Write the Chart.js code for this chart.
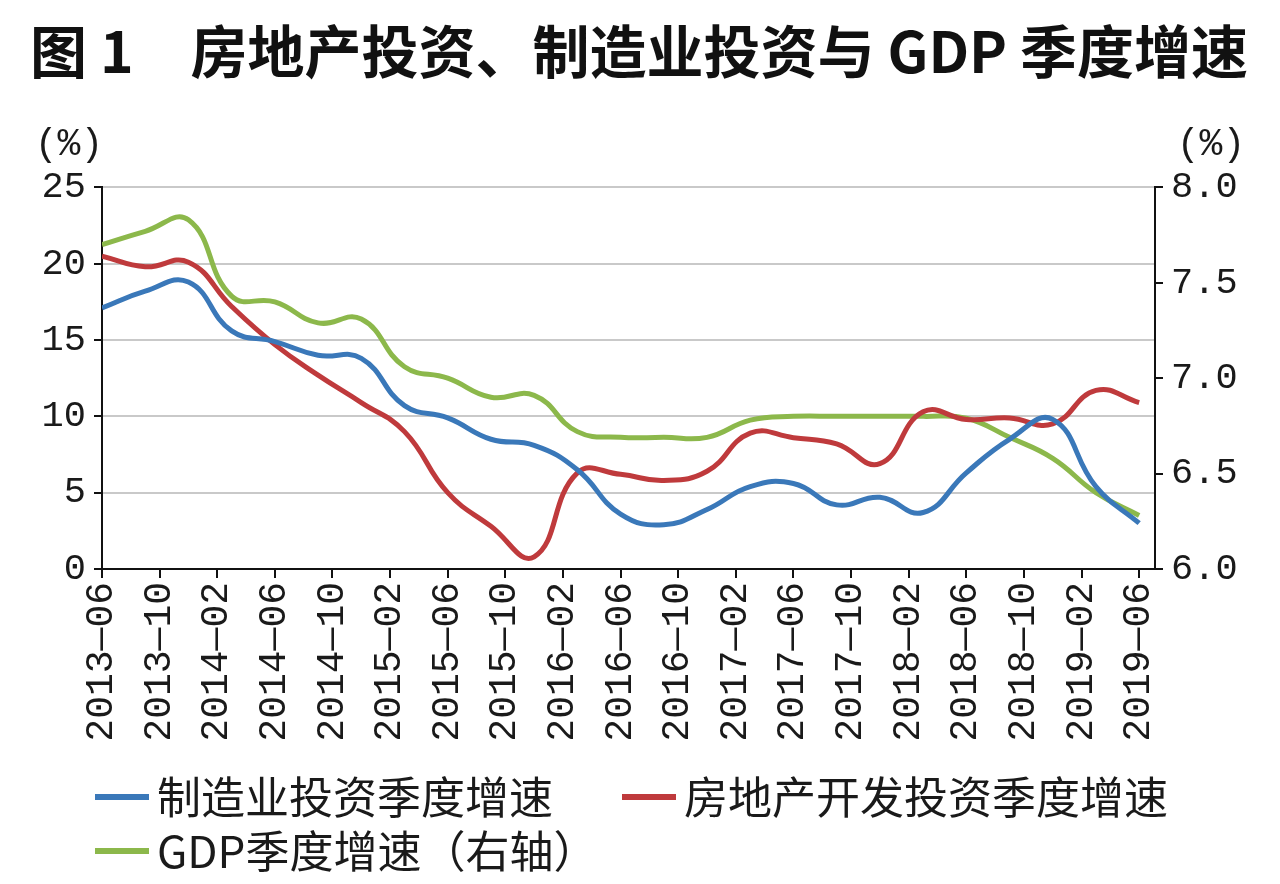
<!DOCTYPE html>
<html>
<head>
<meta charset="utf-8">
<script src="https://cdn.jsdelivr.net/npm/chart.js@4.4.1/dist/chart.umd.min.js"></script>
<style>
  body { margin: 0; background: #fff; }
  #wrap { width: 1280px; height: 884px; }
</style>
</head>
<body>
<div id="wrap"><canvas id="grafico" width="1280" height="884"></canvas></div>
<script>
// quarterly points, x axis is in months from 2013-06
const quarters = ['2013-06','2013-09','2013-12','2014-03','2014-06','2014-09','2014-12','2015-03','2015-06','2015-09','2015-12','2016-03','2016-06','2016-09','2016-12','2017-03','2017-06','2017-09','2017-12','2018-03','2018-06','2018-09','2018-12','2019-03','2019-06']
const tickLabels = ['2013—06','2013—10','2014—02','2014—06','2014—10','2015—02','2015—06','2015—10','2016—02','2016—06','2016—10','2017—02','2017—06','2017—10','2018—02','2018—06','2018—10','2019—02','2019—06']

const manufacturing = [17.1,18.2,18.8,15.6,14.9,14.0,13.8,10.7,9.9,8.5,8.1,6.5,3.6,2.9,3.9,5.4,5.6,4.2,4.7,3.7,6.3,8.5,9.8,5.4,3.0]
const realEstate = [20.5,19.8,20.1,17.2,14.7,12.7,10.9,9.0,5.0,2.8,0.8,6.3,6.2,5.8,6.4,8.9,8.6,8.2,6.9,10.3,9.8,9.9,9.5,11.7,10.9]
const gdp = [7.70,7.77,7.83,7.43,7.40,7.29,7.31,7.06,7.00,6.90,6.91,6.72,6.69,6.69,6.69,6.78,6.80,6.80,6.80,6.80,6.79,6.69,6.58,6.40,6.28]

const leftTicks = [0,5,10,15,20,25]
const rightTicks = [6.0,6.5,7.0,7.5,8.0]

const monthIndex = (s) => {
  const [y, m] = s.split(/[-—]/).map(Number)
  return (y - 2013) * 12 + m - 6
}
const pts = (arr) => arr.map((v, i) => ({x: monthIndex(quarters[i]), y: v}))

const monoFont = "'Liberation Mono', 'DejaVu Sans Mono', monospace"
const cjkFont = "'Noto Sans CJK SC', 'Noto Sans', sans-serif"

// "(%)" unit labels and the two-row legend
const extras = {
  id: 'extras',
  afterDraw(chart) {
    const c = chart.ctx
    const a = chart.chartArea
    c.save()
    c.fillStyle = '#1a1a1a'
    c.font = '38px ' + monoFont
    c.textBaseline = 'middle'
    c.textAlign = 'center'
    c.fillText('(%)', a.left - 33, a.top - 42)
    c.fillText('(%)', a.right + 56, a.top - 42)

    const spots = [[95, 797], [622, 797], [95, 851]]
    c.textAlign = 'left'
    c.font = '44px ' + cjkFont
    chart.data.datasets.forEach((ds, i) => {
      const [x, y] = spots[i]
      c.fillStyle = ds.borderColor
      c.fillRect(x, y - 3, 54, 6)
      c.fillStyle = '#1a1a1a'
      c.fillText(ds.label, x + 62, y)
    })
    c.restore()
  }
}

const ctx = document.getElementById('grafico')

let grafico = new Chart(ctx, {
  type: 'line',
  data: {
    datasets: [{
      label: '制造业投资季度增速',
      data: pts(manufacturing),
      borderColor: '#3a78b9',
      yAxisID: 'y'
    }, {
      label: '房地产开发投资季度增速',
      data: pts(realEstate),
      borderColor: '#bf3a3c',
      yAxisID: 'y'
    }, {
      label: 'GDP季度增速（右轴）',
      data: pts(gdp),
      borderColor: '#8cb84b',
      yAxisID: 'y1'
    }]
  },
  options: {
    responsive: false,
    animation: false,
    elements: {
      line: { borderWidth: 5, tension: 0.45 },
      point: { radius: 0 }
    },
    layout: { padding: { left: 30, top: 0, right: 0, bottom: 124 } },
    plugins: {
      legend: { display: false },
      tooltip: { enabled: false },
      title: {
        display: true,
        text: '图 1　房地产投资、制造业投资与 GDP 季度增速',
        align: 'start',
        color: '#111',
        font: { family: cjkFont, size: 57, weight: 'bold' },
        padding: { top: 17, bottom: 102 }
      }
    },
    scales: {
      x: {
        type: 'linear',
        min: 0,
        max: 73.1,
        afterBuildTicks: (s) => { s.ticks = tickLabels.map(t => ({value: monthIndex(t)})) },
        afterFit: (s) => { s.height = 191 },
        ticks: {
          autoSkip: false,
          minRotation: 90,
          maxRotation: 90,
          padding: 4,
          color: '#1a1a1a',
          font: { family: monoFont, size: 38 },
          callback: (v, i) => tickLabels[i]
        },
        grid: { drawOnChartArea: false, tickColor: '#111', tickLength: 9, lineWidth: 2 },
        border: { color: '#111', width: 2 }
      },
      y: {
        position: 'left',
        min: 0,
        max: 25,
        afterBuildTicks: (s) => { s.ticks = leftTicks.map(v => ({value: v})) },
        afterFit: (s) => { s.width = 72 },
        ticks: {
          padding: 8,
          color: '#1a1a1a',
          font: { family: monoFont, size: 37 }
        },
        grid: { color: '#c9c9c9', lineWidth: 2, tickColor: '#111', tickLength: 8 },
        border: { color: '#111', width: 2 }
      },
      y1: {
        position: 'right',
        min: 6,
        max: 8,
        afterBuildTicks: (s) => { s.ticks = rightTicks.map(v => ({value: v})) },
        afterFit: (s) => { s.width = 125 },
        ticks: {
          padding: 8,
          color: '#1a1a1a',
          font: { family: monoFont, size: 37 },
          callback: (v) => v.toFixed(1)
        },
        grid: { drawOnChartArea: false, lineWidth: 2, tickColor: '#111', tickLength: 8 },
        border: { color: '#111', width: 2 }
      }
    }
  },
  plugins: [extras]
});
</script>
</body>
</html>
